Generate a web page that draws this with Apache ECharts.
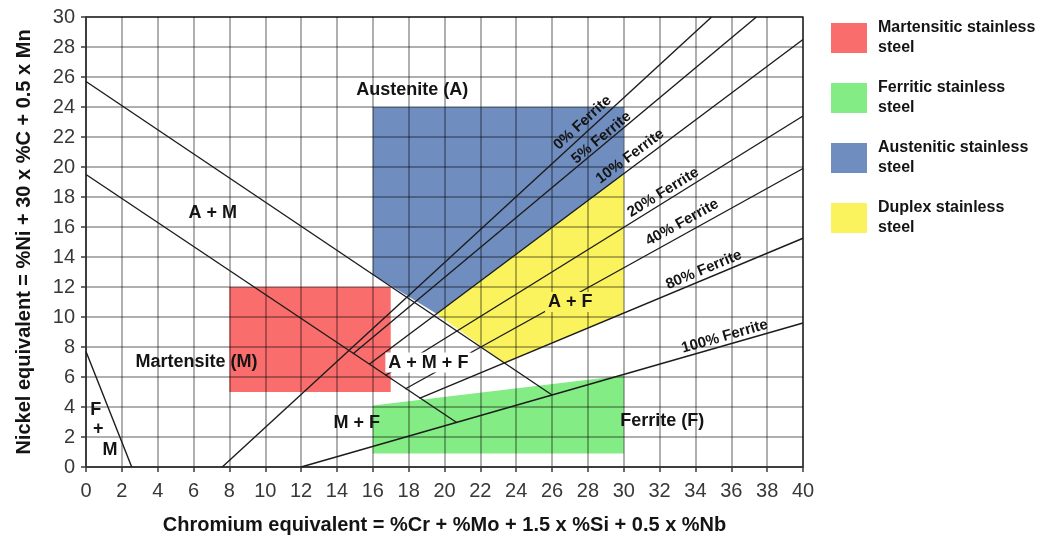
<!DOCTYPE html>
<html>
<head>
<meta charset="utf-8">
<title>Schaeffler diagram</title>
<script src="https://cdn.jsdelivr.net/npm/echarts@6/dist/echarts.min.js"></script>
<style>
  html, body { margin: 0; padding: 0; background: #ffffff; }
  #chart { width: 1044px; height: 542px; }
</style>
</head>
<body>
<div id="chart"></div>
<script>
// Axis ranges (chromium equivalent on x, nickel equivalent on y)
const xRange = [0, 40];
const yRange = [0, 30];
const tickStep = 2;

// Phase boundaries, as [Cr_eq, Ni_eq] end points
const boundaryAM = [[0, 25.7], [26, 4.8]];      // austenite / A+M
const boundaryM = [[0, 19.5], [20.7, 2.95]];    // A+M / martensite
const boundaryFM = [[0, 7.7], [2.55, 0]];       // M / F+M

// Iso-ferrite lines
const ferrite0 = [[7.6, 0], [34.9, 30]];
const ferrite5 = [[14.9, 7.55], [37.4, 30]];
const ferrite10 = [[15.8, 6.85], [40, 28.5]];
const ferrite20 = [[16.7, 6.1], [40, 23.4]];
const ferrite40 = [[17.8, 5.2], [40, 19.9]];
const ferrite80 = [[18.6, 4.57], [40, 15.25]];
const ferrite100 = [[12, 0], [40, 9.6]];

const ferriteNames = ['0% Ferrite', '5% Ferrite', '10% Ferrite', '20% Ferrite',
                      '40% Ferrite', '80% Ferrite', '100% Ferrite'];
const ferriteLines = [ferrite0, ferrite5, ferrite10, ferrite20, ferrite40, ferrite80, ferrite100];
// where each ferrite caption sits, in data units
const ferriteLabelAt = [[27.7, 22.95], [28.75, 21.95], [30.35, 20.7], [32.2, 18.3],
                        [33.26, 16.3], [34.47, 13.15], [35.64, 8.7]];

// Steel families, as polygons in data units
const martensiticZone = [[8, 5], [17, 5], [17, 12], [8, 12]];
const ferriticZone = [[16, 0.9], [30, 0.9], [30, 6.1], [16, 4.1]];
const austeniticZone = [[16, 24], [30, 24], [30, 19.5], [19.56, 10.22], [16, 12.84]];
const duplexZone = [[19.56, 10.22], [30, 19.5], [30, 10.25], [23.35, 6.93]];

const zoneNames = ['Martensitic stainless steel', 'Ferritic stainless steel',
                   'Austenitic stainless steel', 'Duplex stainless steel'];
const zones = [martensiticZone, ferriticZone, austeniticZone, duplexZone];
const zoneColors = ['#f96d6d', '#84ec84', '#6f8dbf', '#fbf35d'];

// Phase-field captions: [x, y, text]
const phaseLabels = [
  [18.2, 25.1, 'Austenite (A)'],
  [7.07, 16.9, 'A + M'],
  [6.17, 7.0, 'Martensite (M)'],
  [32.15, 3.05, 'Ferrite (F)'],
  [15.1, 2.92, 'M + F'],
  [0.55, 3.78, 'F'],
  [0.69, 2.56, '+'],
  [1.34, 1.11, 'M']
];
// Captions that sit over lines and mask them
const boxedLabels = [
  [19.1, 6.96, 'A + M + F'],
  [27.02, 11.0, 'A + F']
];
const boxedFill = ['#ffffff', '#fbf35d'];

const FONT = '"Liberation Sans", Arial, Helvetica, sans-serif';
const INK = '#141414';
const chart = echarts.init(document.getElementById('chart'), null, { renderer: 'canvas' });

function zoneSeries(name, verts, color) {
  return {
    type: 'custom',
    name: name,
    z: -1,
    silent: true,
    itemStyle: { color: color },
    data: verts,
    encode: { x: 0, y: 1 },
    renderItem: function (params, api) {
      if (params.dataIndex !== 0) return null;
      return {
        type: 'polygon',
        shape: { points: verts.map(function (p) { return api.coord(p); }) },
        style: { fill: color }
      };
    }
  };
}

function lineSeries(name, pts) {
  return {
    type: 'line',
    name: name,
    data: pts,
    symbol: 'none',
    silent: true,
    z: 3,
    lineStyle: { color: '#1c1c1c', width: 1.4 }
  };
}

// Text marks placed at data coordinates
function captionSeries(name, rows, fontSize, extra) {
  return {
    type: 'custom',
    name: name,
    silent: true,
    z: 6,
    data: rows.map(function (r) { return [r[0], r[1]]; }),
    encode: { x: 0, y: 1 },
    renderItem: function (params, api) {
      const i = params.dataIndex;
      const pt = api.coord([api.value(0), api.value(1)]);
      const style = {
        text: rows[i][2] !== undefined ? rows[i][2] : '',
        fill: INK,
        font: 'bold ' + fontSize + 'px ' + FONT,
        align: 'center',
        verticalAlign: 'middle'
      };
      const el = { type: 'text', x: pt[0], y: pt[1], style: style };
      if (extra) extra(i, el, api);
      return el;
    }
  };
}

const series = [];
zones.forEach(function (z, i) { series.push(zoneSeries(zoneNames[i], z, zoneColors[i])); });
series.push(lineSeries('A/A+M', boundaryAM));
series.push(lineSeries('A+M/M', boundaryM));
series.push(lineSeries('M/F+M', boundaryFM));
ferriteLines.forEach(function (l, i) { series.push(lineSeries(ferriteNames[i], l)); });

series.push(captionSeries('phase captions', phaseLabels, 18));
series.push(captionSeries('boxed captions', boxedLabels, 18, function (i, el) {
  el.style.backgroundColor = boxedFill[i];
  el.style.padding = [2, 3, 0, 3];
}));
series.push(captionSeries('ferrite captions',
  ferriteLabelAt.map(function (p, i) { return [p[0], p[1], ferriteNames[i]]; }), 15,
  function (i, el, api) {
    // follow the on-screen slope of the matching line
    const a = api.coord(ferriteLines[i][0]);
    const b = api.coord(ferriteLines[i][1]);
    el.rotation = -Math.atan2(b[1] - a[1], b[0] - a[0]);
  }));

chart.setOption({
  animation: false,
  backgroundColor: '#ffffff',
  textStyle: { fontFamily: FONT },
  grid: {
    left: 86, right: 241, top: 17, bottom: 75,
    show: true, borderColor: '#3a3a3a', borderWidth: 1.5, backgroundColor: 'transparent'
  },
  legend: {
    orient: 'vertical',
    left: 826, top: 13,
    icon: 'rect',
    itemWidth: 36, itemHeight: 30, itemGap: 20,
    selectedMode: false,
    data: zoneNames,
    formatter: function (name) { return name.replace(' steel', '\nsteel'); },
    textStyle: {
      color: INK, fontFamily: FONT, fontWeight: 'bold', fontSize: 16,
      lineHeight: 20, padding: [0, 0, 0, 6]
    }
  },
  xAxis: {
    type: 'value',
    min: xRange[0], max: xRange[1], interval: tickStep,
    name: 'Chromium equivalent = %Cr + %Mo + 1.5 x %Si + 0.5 x %Nb',
    nameLocation: 'middle', nameGap: 48,
    nameTextStyle: { color: INK, fontFamily: FONT, fontWeight: 'bold', fontSize: 20 },
    axisLine: { show: true, lineStyle: { color: '#3a3a3a', width: 1.5 } },
    axisTick: { show: true, length: 5, lineStyle: { color: '#3a3a3a', width: 1.5 } },
    axisLabel: { color: '#383838', fontFamily: FONT, fontSize: 20, margin: 14 },
    splitLine: { show: true, lineStyle: { color: 'rgba(0,0,0,0.42)', width: 1.5 } }
  },
  yAxis: {
    type: 'value',
    min: yRange[0], max: yRange[1], interval: tickStep,
    name: 'Nickel equivalent = %Ni + 30 x %C + 0.5 x Mn',
    nameLocation: 'middle', nameGap: 52,
    nameTextStyle: { color: INK, fontFamily: FONT, fontWeight: 'bold', fontSize: 20 },
    axisLine: { show: true, lineStyle: { color: '#3a3a3a', width: 1.5 } },
    axisTick: { show: true, length: 5, lineStyle: { color: '#3a3a3a', width: 1.5 } },
    axisLabel: { color: '#383838', fontFamily: FONT, fontSize: 20, margin: 11 },
    splitLine: { show: true, lineStyle: { color: 'rgba(0,0,0,0.42)', width: 1.5 } }
  },
  series: series
});
</script>
</body>
</html>
